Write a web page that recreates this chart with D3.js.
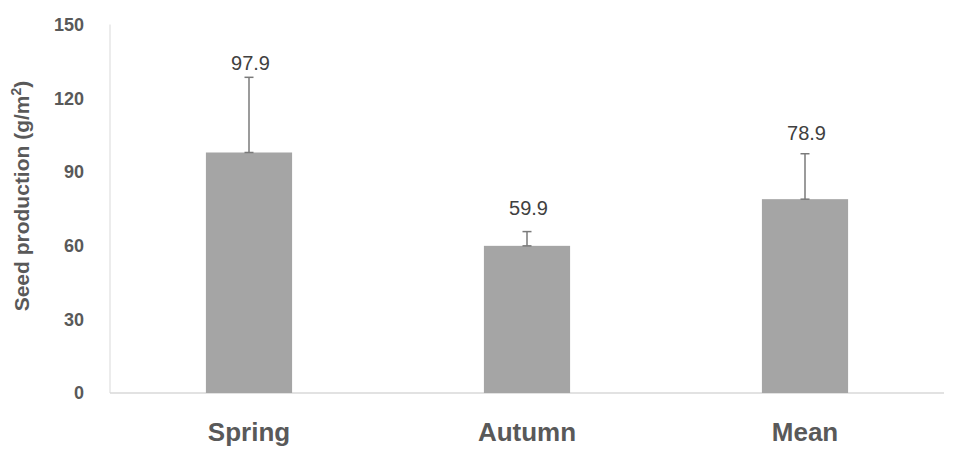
<!DOCTYPE html>
<html>
<head>
<meta charset="utf-8">
<script src="https://cdn.jsdelivr.net/npm/d3@7"></script>
<style>
  body { margin: 0; background: #fff; }
  text { font-family: "Liberation Sans", Arial, sans-serif; }
</style>
</head>
<body>
<div id="chart"></div>
<script>
const categories = ["Spring", "Autumn", "Mean"];
const values = [97.9, 59.9, 78.9];
const errors = [30.6, 5.8, 18.5];
const yTicks = [0, 30, 60, 90, 120, 150];

const width = 953, height = 458;
const margin = { top: 24.5, right: 9, bottom: 65, left: 110 };

const svg = d3.select("#chart")
    .append("svg")
    .attr("width", width)
    .attr("height", height);

const x = d3.scaleBand()
    .domain(categories)
    .range([margin.left, width - margin.right])
    .paddingInner(0.69)
    .paddingOuter(0.345);

const y = d3.scaleLinear()
    .domain([0, 150])
    .range([height - margin.bottom, margin.top]);

// axis lines
svg.append("line")
    .attr("x1", margin.left).attr("x2", margin.left)
    .attr("y1", y(150)).attr("y2", y(0))
    .attr("stroke", "#d9d9d9").attr("stroke-width", 1);

svg.append("line")
    .attr("x1", margin.left).attr("x2", width - margin.right)
    .attr("y1", y(0)).attr("y2", y(0))
    .attr("stroke", "#d9d9d9").attr("stroke-width", 1.5);

// y tick labels
svg.selectAll(".ytick")
    .data(yTicks)
    .enter()
    .append("text")
    .attr("x", 84)
    .attr("y", d => y(d))
    .attr("dy", "0.35em")
    .attr("text-anchor", "end")
    .attr("font-size", 18)
    .attr("font-weight", "bold")
    .attr("fill", "#595959")
    .text(d => d);

// y title
const title = svg.append("text")
    .attr("transform", "translate(29,196) rotate(-90)")
    .attr("text-anchor", "middle")
    .attr("font-size", 21)
    .attr("font-weight", "bold")
    .attr("fill", "#595959");
title.append("tspan").text("Seed production (g/m");
title.append("tspan").attr("baseline-shift", "super").attr("font-size", 14).text("2");
title.append("tspan").text(")");

// bars
svg.selectAll(".bar")
    .data(values)
    .enter()
    .append("rect")
    .attr("x", (d, i) => x(categories[i]))
    .attr("y", d => y(d))
    .attr("width", x.bandwidth())
    .attr("height", d => y(0) - y(d))
    .attr("fill", "#a5a5a5");

// error bars (plus only)
const cx = i => x(categories[i]) + x.bandwidth() / 2;
const err = svg.append("g").attr("stroke", "#7a7a7a").attr("stroke-width", 1.5);
values.forEach((v, i) => {
    err.append("line")
        .attr("x1", cx(i)).attr("x2", cx(i))
        .attr("y1", y(v)).attr("y2", y(v + errors[i]));
    err.append("line")
        .attr("x1", cx(i) - 4.5).attr("x2", cx(i) + 4.5)
        .attr("y1", y(v + errors[i])).attr("y2", y(v + errors[i]));
    err.append("line")
        .attr("x1", cx(i) - 4.5).attr("x2", cx(i) + 4.5)
        .attr("y1", y(v)).attr("y2", y(v));
});

// value labels (gap above the error cap, as placed in the original)
const labelGap = [7, 17, 14];
svg.selectAll(".vlabel")
    .data(values)
    .enter()
    .append("text")
    .attr("x", (d, i) => cx(i) + 1.5)
    .attr("y", (d, i) => y(d + errors[i]) - labelGap[i])
    .attr("text-anchor", "middle")
    .attr("font-size", 20)
    .attr("fill", "#404040")
    .text(d => d.toFixed(1));

// category labels
svg.selectAll(".xlabel")
    .data(categories)
    .enter()
    .append("text")
    .attr("x", d => x(d) + x.bandwidth() / 2)
    .attr("y", 441)
    .attr("text-anchor", "middle")
    .attr("font-size", 26)
    .attr("font-weight", "bold")
    .attr("fill", "#595959")
    .text(d => d);
</script>
</body>
</html>
